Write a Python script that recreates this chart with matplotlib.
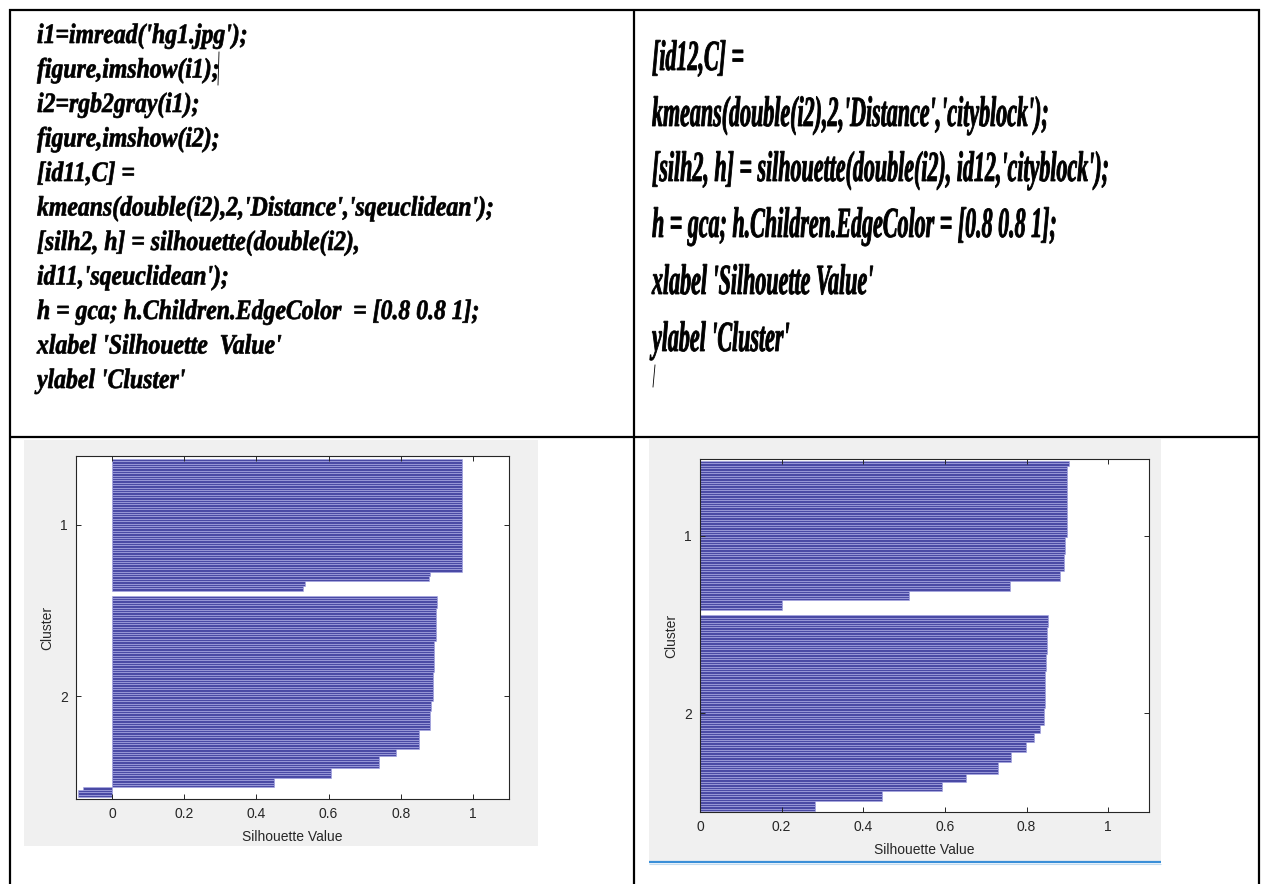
import numpy as np
import matplotlib
matplotlib.use("Agg")
import matplotlib.pyplot as plt
from matplotlib.textpath import TextPath
from matplotlib.patches import PathPatch, Rectangle
from matplotlib.font_manager import FontProperties
from matplotlib.transforms import Affine2D

W, H = 1261, 884

# code shown in the two upper cells
left_code = [
    "i1=imread('hg1.jpg');",
    "figure,imshow(i1);",
    "i2=rgb2gray(i1);",
    "figure,imshow(i2);",
    "[id11,C] =",
    "kmeans(double(i2),2,'Distance','sqeuclidean');",
    "[silh2, h] = silhouette(double(i2),",
    "id11,'sqeuclidean');",
    "h = gca; h.Children.EdgeColor  = [0.8 0.8 1];",
    "xlabel 'Silhouette  Value'",
    "ylabel 'Cluster'",
]
right_code = [
    "[id12,C] =",
    "kmeans(double(i2),2,'Distance','cityblock');",
    "[silh2, h] = silhouette(double(i2), id12,'cityblock');",
    "h = gca; h.Children.EdgeColor = [0.8 0.8 1];",
    "xlabel 'Silhouette Value'",
    "ylabel 'Cluster'",
]

# silhouette values (sorted per cluster) read as runs: value, number of points
sq_c1_vals = [0.970, 0.882, 0.878, 0.536, 0.530]
sq_c1_counts = [47, 2, 2, 2, 2]
sq_c2_vals = [0.900, 0.897, 0.893, 0.890, 0.885, 0.880, 0.850, 0.787,
              0.741, 0.608, 0.448, -0.081, -0.095]
sq_c2_counts = [5, 14, 13, 12, 4, 8, 8, 3, 5, 4, 4, 1, 3]

cb_c1_vals = [0.903, 0.900, 0.898, 0.895, 0.891, 0.883, 0.760, 0.512, 0.202]
cb_c1_counts = [2, 17, 12, 7, 7, 4, 4, 4, 4]
cb_c2_vals = [0.852, 0.850, 0.847, 0.845, 0.842, 0.832, 0.818, 0.799,
              0.762, 0.729, 0.652, 0.594, 0.445, 0.282]
cb_c2_counts = [5, 11, 7, 15, 7, 3, 4, 4, 4, 5, 3, 4, 4, 4]

xticks = [0, 0.2, 0.4, 0.6, 0.8, 1]
cluster_labels = ["1", "2"]

BAR_FACE = "#4a4aa5"
BAR_EDGE = "#a8a8e4"
AX_COL = "#262626"


def draw_code(ax, lines, x0, baselines, em, ref_line, ref_width, stroke):
    prop = FontProperties(family="Liberation Serif", weight="bold", style="italic")
    ref = TextPath((0, 0), ref_line, size=em, prop=prop)
    sx = ref_width / ref.get_extents().width
    for line, yb in zip(lines, baselines):
        tp = TextPath((0, 0), line, size=em, prop=prop)
        tr = Affine2D().scale(sx, -1).translate(x0, yb) + ax.transData
        ax.add_patch(PathPatch(tp, transform=tr, facecolor="black",
                               edgecolor="black", lw=stroke))


def px_axes(fig, l, t, r, b):
    return fig.add_axes([l / W, 1 - b / H, (r - l) / W, (b - t) / H])


def silhouette_plot(ax, c1_vals, c1_counts, c2_vals, c2_counts, xlim, ypad):
    s1 = np.repeat(c1_vals, c1_counts)
    s2 = np.repeat(c2_vals, c2_counts)
    space = 2
    y1 = np.arange(1, len(s1) + 1)
    y2 = np.arange(len(s1) + space + 1, len(s1) + space + len(s2) + 1)
    n = len(s1) + space + len(s2)
    for y, s in ((y1, s1), (y2, s2)):
        ax.barh(y, s, height=1.0, color=BAR_FACE, edgecolor=BAR_EDGE, linewidth=0.45)
    ax.set_xlim(*xlim)
    ax.set_ylim(n + ypad[1], ypad[0])
    ax.set_xticks(xticks)
    ax.set_xticklabels(["0", "0.2", "0.4", "0.6", "0.8", "1"])
    ax.set_yticks([y1.mean(), y2.mean()])
    ax.set_yticklabels(cluster_labels)
    ax.tick_params(direction="in", length=3.5, width=0.7, colors=AX_COL,
                   labelsize=10, top=True, right=True, pad=6)
    for sp in ax.spines.values():
        sp.set_color(AX_COL)
        sp.set_linewidth(0.8)
    ax.set_xlabel("Silhouette Value", fontsize=10, color=AX_COL, labelpad=6)
    ax.set_ylabel("Cluster", fontsize=10, color=AX_COL, labelpad=4)
    for lab in ax.get_xticklabels() + ax.get_yticklabels():
        lab.set_family("Liberation Sans")
    ax.xaxis.label.set_family("Liberation Sans")
    ax.yaxis.label.set_family("Liberation Sans")


fig = plt.figure(figsize=(W / 100, H / 100), dpi=100)
bg = fig.add_axes([0, 0, 1, 1])
bg.set_xlim(0, W)
bg.set_ylim(H, 0)
bg.axis("off")

# grey MATLAB figure backgrounds
bg.add_patch(Rectangle((24, 440), 514, 406, facecolor="#f0f0f0", lw=0))
bg.add_patch(Rectangle((649, 439), 512, 422, facecolor="#f0f0f0", lw=0))
bg.plot([649, 1161], [862, 862], color="#3b8fd8", lw=1.6, solid_capstyle="butt")
bg.plot([649, 1161], [864, 864], color="#c4dcf0", lw=0.8, solid_capstyle="butt")

# table lines
kw = dict(color="black", lw=1.6, solid_capstyle="butt")
bg.plot([9, 1260], [10, 10], **kw)
bg.plot([9, 1260], [437, 437], **kw)
bg.plot([10, 10], [9, H], **kw)
bg.plot([634, 634], [9, H], **kw)
bg.plot([1259, 1259], [9, H], **kw)

# code text
draw_code(bg, left_code, 37, [43 + 34.5 * i for i in range(len(left_code))],
          28, left_code[5], 455, 0.5)
draw_code(bg, right_code, 652, [70, 126, 181, 237, 294, 351],
          43, right_code[1], 395, 0.6)

# text cursors
bg.plot([219, 218], [52, 85], color="black", lw=0.6)
bg.plot([655, 653], [365, 387], color="black", lw=0.6)

ax1 = px_axes(fig, 76, 456, 509, 799)
silhouette_plot(ax1, sq_c1_vals, sq_c1_counts, sq_c2_vals, sq_c2_counts,
                (-0.1, 1.1), (-0.7, 1.3))
ax2 = px_axes(fig, 700, 459, 1149, 812)
silhouette_plot(ax2, cb_c1_vals, cb_c1_counts, cb_c2_vals, cb_c2_counts,
                (0, 1.1), (-0.3, 0.9))

fig.savefig("out.png", dpi=100)
